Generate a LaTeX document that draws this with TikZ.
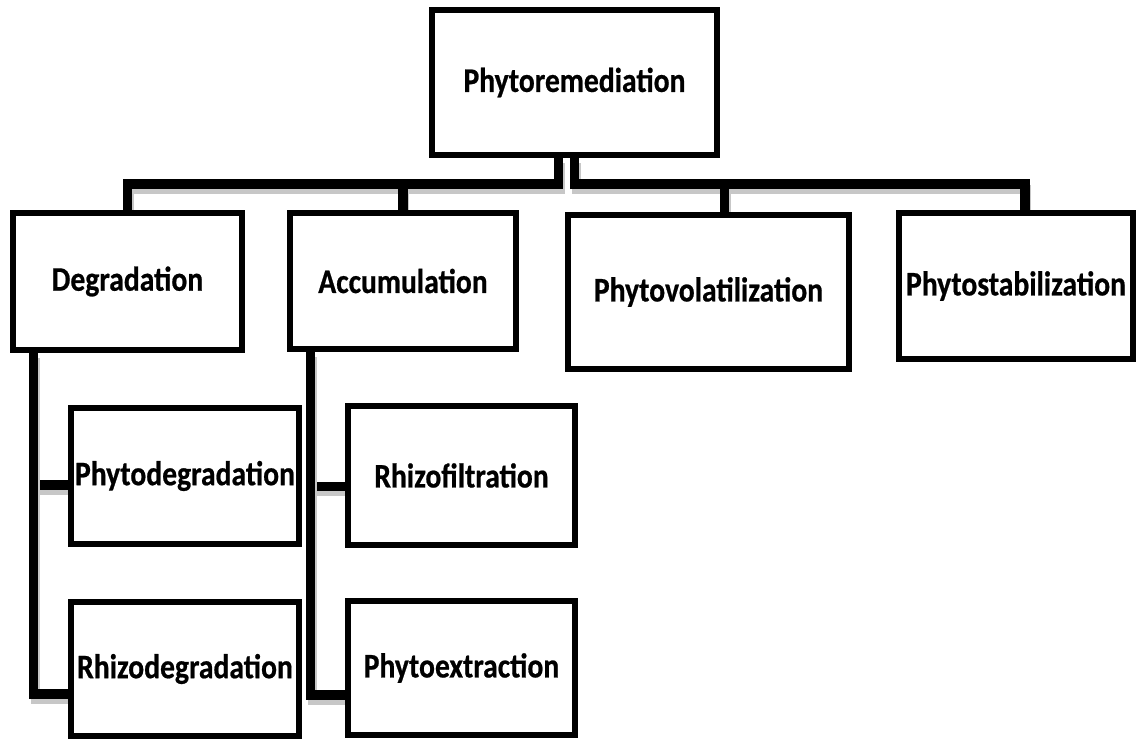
\documentclass[tikz,border=0pt]{standalone}
\usepackage{fontspec}
\setmainfont{Carlito}
\newfontfamily\boxfont[FakeStretch=0.86, FakeBold=0.6]{Carlito}
\usetikzlibrary{
    calc
}
\newcommand{\pxu}{0.02cm}
\pgfdeclarelayer{background}
\pgfsetlayers{background,main}

\tikzset{
    box/.style={
        draw,
        fill=white,
        line width=3.6pt,
        inner sep=0pt,
        align=center,
        font=\boxfont\bfseries\fontsize{19.6}{22}\selectfont
    },
    conn/.style={
        line width=5.2pt,
        line join=miter,
        preaction={draw=black!22, line width=5.2pt,
            transform canvas={shift={(1pt,-3pt)}}}
    }
}

\begin{document}
\begin{tikzpicture}[x=\pxu, y=-\pxu]
    \useasboundingbox (0,0) rectangle (1137,738);

    % root
    \node[box, minimum width=285*\pxu, minimum height=145*\pxu] (phyto) at (574.5,82.5) {Phytoremediation};

    % first level
    \node[box, minimum width=229*\pxu, minimum height=137*\pxu] (degr) at (127.5,281.5) {Degradation};
    \node[box, minimum width=226*\pxu, minimum height=136*\pxu] (accu) at (403,281) {Accumulation};
    \node[box, minimum width=281*\pxu, minimum height=154*\pxu] (pvol) at (708.5,292) {Phytovolatilization};
    \node[box, minimum width=234*\pxu, minimum height=146*\pxu] (pstab) at (1016,286) {Phytostabilization};

    % second level
    \node[box, minimum width=228*\pxu, minimum height=136*\pxu] (pdeg) at (185,476) {Phytodegradation};
    \node[box, minimum width=228*\pxu, minimum height=134*\pxu] (rdeg) at (185,669) {Rhizodegradation};
    \node[box, minimum width=227*\pxu, minimum height=139*\pxu] (rfil) at (461.5,475.5) {Rhizofiltration};
    \node[box, minimum width=227*\pxu, minimum height=134*\pxu] (pext) at (461.5,668) {Phytoextraction};

    \coordinate (bar) at (574,184);

    \begin{pgfonlayer}{background}
        % root to first level
        \draw[conn] ($(phyto.south)+(-16,0)$) |- (bar -| degr.north) -- (degr.north);
        \draw[conn] (phyto.south) |- ($(bar -| pstab.north)+(9,0)$) -- ($(pstab.north)+(9,0)$);
        \draw[conn] (accu.north) -- (accu.north |- bar);
        \draw[conn] ($(pvol.north)+(16,0)$) -- ($(pvol.north |- bar)+(16,0)$);

        % first level to second level
        \draw[conn] ($(degr.south west)+(24,0)$) |- ($(pdeg.west)+(0,9)$);
        \draw[conn] ($(degr.south west)+(24,0)$) |- ($(rdeg.west)+(0,25)$);
        \draw[conn] ($(accu.south west)+(24,0)$) |- ($(rfil.west)+(0,11)$);
        \draw[conn] ($(accu.south west)+(24,0)$) |- ($(pext.west)+(0,27)$);
    \end{pgfonlayer}
\end{tikzpicture}
\end{document}
